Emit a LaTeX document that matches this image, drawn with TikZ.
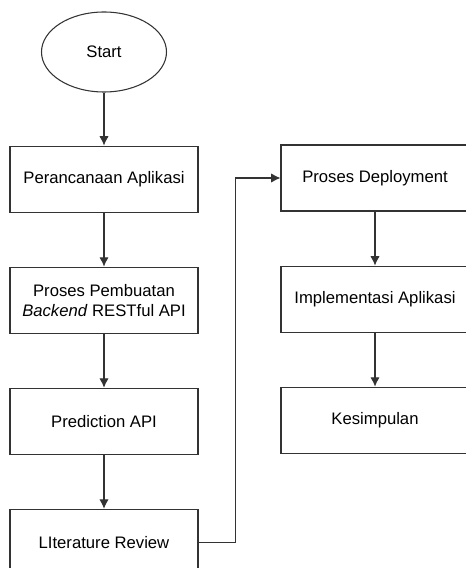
\documentclass[tikz,border=0pt]{standalone}
\usepackage{fontspec}
\setmainfont{Liberation Sans}
\usetikzlibrary{positioning,shapes.geometric,arrows.meta}

\begin{document}
\begin{tikzpicture}[x=0.75pt,y=0.75pt,
    >={Latex[length=7pt,width=7pt]},
    node distance=40.5pt,
    line/.style={draw=black!80,line width=0.8pt},
    box/.style={line,minimum width=141pt,minimum height=49.5pt,inner sep=0pt,
      align=center,font=\fontsize{12.5}{15}\selectfont},
    terminal/.style={box,ellipse,minimum width=93.75pt,minimum height=60pt}]
    \def \colL {104}
    \def \colR {375}
    % frame of the picture, the right column and the last box run past it
    \useasboundingbox (0,0) rectangle (466,568);
    \clip (0,0) rectangle (466,568);

    % left column
    \node[terminal] (start) at (\colL,516) {Start};
    \node[box, below=39.75pt of start] (plan) {Perancanaan Aplikasi};
    \node[box, below=of plan] (backend) {Proses Pembuatan\\\textit{Backend} RESTful API};
    \node[box, below=of backend] (predict) {Prediction API};
    \node[box, below=of predict] (review) {LIterature Review};

    % right column
    \node[box] (deploy) at (\colR,390) {Proses Deployment};
    \node[box, below=of deploy] (impl) {Implementasi Aplikasi};
    \node[box, below=of impl] (kes) {Kesimpulan};

    \foreach \a/\b in {start/plan,plan/backend,backend/predict,predict/review,deploy/impl,impl/kes}
      \draw[line,->] (\a) -- (\b);
    \draw[line,->] (review.east) -- ++(37,0) |- (deploy.west);
\end{tikzpicture}
\end{document}
